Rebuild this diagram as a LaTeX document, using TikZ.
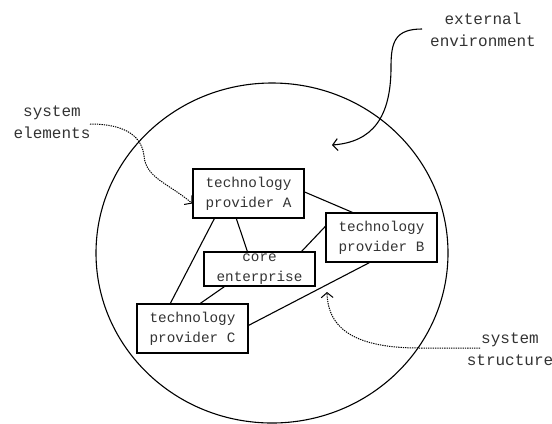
\documentclass[tikz,border=0pt]{standalone}
\usepackage{fontspec}
\setmonofont{Liberation Mono}
\usetikzlibrary{arrows.meta}
\tikzset{
  boxnode/.style={draw=black, line width=1.3bp, minimum width=111bp, minimum height=49bp, inner sep=0pt, align=center, text=black!80, font=\ttfamily\fontsize{14.3bp}{20bp}\selectfont},
  labelnode/.style={align=center, inner sep=0pt, text=black!80, font=\ttfamily\fontsize{16bp}{22bp}\selectfont},
  link/.style={line width=1.1bp, black},
  pointer/.style={line width=1.1bp, -{Straight Barb[length=5bp,width=12bp]}},
  dotpointer/.style={line width=1bp, dash pattern=on 1.3bp off 1bp, -{Straight Barb[length=5bp,width=12bp,line width=1bp]}}
}
\begin{document}
\begin{tikzpicture}[x=1bp,y=-1bp]
\useasboundingbox[fill=white] (0,0) rectangle (552,423);
\draw[line width=1.1bp] (272,253) ellipse [x radius=176, y radius=170];

\node[boxnode] (A) at (248.5,193.5) {technology\\provider A};
\node[boxnode] (B) at (381.5,237.5) {technology\\provider B};
\node[boxnode, minimum height=34bp] (E) at (259.5,269) {core\\enterprise};
\node[boxnode] (C) at (192.5,328.5) {technology\\provider C};

\draw[link] ([yshift=1.5bp]A.east) -- ([xshift=27bp]B.north west);
\draw[link] ([xshift=44bp]A.south west) -- ([xshift=44bp]E.north west);
\draw[link] ([xshift=22bp]A.south west) -- ([xshift=34bp]C.north west);
\draw[link] ([yshift=-14bp]B.north west) -- ([xshift=-14bp]E.north east);
\draw[link] ([xshift=21bp]E.south west) -- ([xshift=64bp]C.north west);
\draw[link] ([xshift=44bp]B.south west) -- ([yshift=-22bp]C.north east);

\node[labelnode] (ext) at (483,29.5) {external\\environment};
\node[labelnode] (elem) at (52,122.5) {system\\elements};
\node[labelnode] (struc) at (510,349.5) {system\\structure};

\coordinate (extstart) at (422,29);
\coordinate (exttip) at (332,145);
\coordinate (elemstart) at (90,124);
\coordinate (strucstart) at (480,348);
\coordinate (structip) at (327,292);

\draw[pointer] (extstart) .. controls (395,29) and (391,42) .. (391,67) .. controls (391,118) and (372,142) .. (exttip);
\draw[dotpointer] (elemstart) .. controls (128,124) and (142,138) .. (144,156) .. controls (146,178) and (168,183) .. ([yshift=-10bp]A.west);
\draw[dotpointer] (strucstart) -- (420,348) .. controls (360,348) and (328,332) .. (structip);
\end{tikzpicture}
\end{document}
